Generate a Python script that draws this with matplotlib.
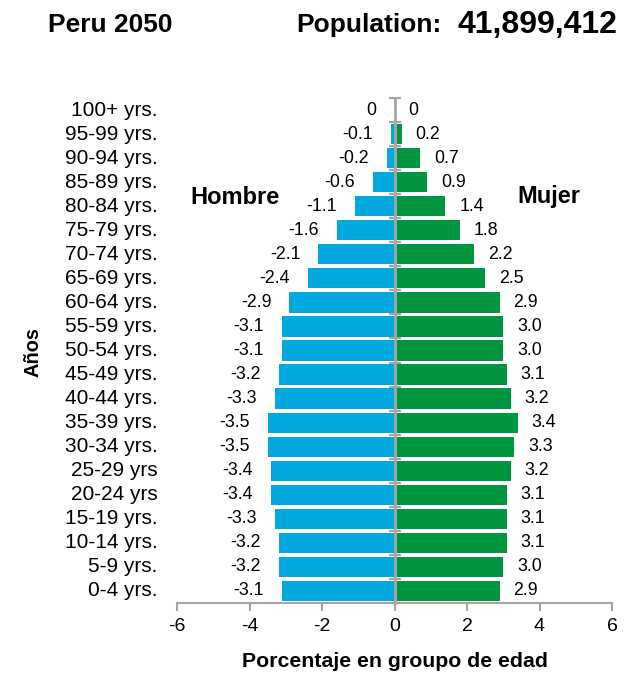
import matplotlib
matplotlib.use("Agg")
import matplotlib.pyplot as plt
from matplotlib.transforms import blended_transform_factory

plt.rcParams["font.family"] = ["Liberation Sans", "DejaVu Sans"]
plt.rcParams["axes.unicode_minus"] = False

# Age groups from youngest to oldest
age_groups = ["0-4 yrs.", "5-9 yrs.", "10-14 yrs.", "15-19 yrs.", "20-24 yrs",
              "25-29 yrs", "30-34 yrs.", "35-39 yrs.", "40-44 yrs.", "45-49 yrs.",
              "50-54 yrs.", "55-59 yrs.", "60-64 yrs.", "65-69 yrs.", "70-74 yrs.",
              "75-79 yrs.", "80-84 yrs.", "85-89 yrs.", "90-94 yrs.", "95-99 yrs.",
              "100+ yrs."]
# Percent of population (men drawn on the negative side)
male = [-3.1, -3.2, -3.2, -3.3, -3.4, -3.4, -3.5, -3.5, -3.3, -3.2,
        -3.1, -3.1, -2.9, -2.4, -2.1, -1.6, -1.1, -0.6, -0.2, -0.1, 0.0]
female = [2.9, 3.0, 3.1, 3.1, 3.1, 3.2, 3.3, 3.4, 3.2, 3.1,
          3.0, 3.0, 2.9, 2.5, 2.2, 1.8, 1.4, 0.9, 0.7, 0.2, 0.0]
x_ticks = [-6, -4, -2, 0, 2, 4, 6]

BLUE = "#00a9e0"
GREEN = "#00963f"
GRAY = "#a6a6a6"

fig = plt.figure(figsize=(6.29, 6.75), dpi=100)
ax = fig.add_axes([177 / 629, 1 - 603 / 675, 435 / 629, 505 / 675])

y = list(range(len(age_groups)))
ax.barh(y, male, height=0.84, color=BLUE, zorder=2)
ax.barh(y, female, height=0.84, color=GREEN, zorder=2)

ax.set_xlim(-6, 6)
ax.set_ylim(-0.5, len(age_groups) - 0.5)


def fmt(v):
    return "0" if v == 0 else f"{v:.1f}"


# Value labels at the outer end of each bar
for yi, v in zip(y, male):
    ax.annotate(fmt(v), (v, yi), xytext=(-13, 0), textcoords="offset points",
                ha="right", va="center", fontsize=12.8, color="black")
for yi, v in zip(y, female):
    ax.annotate(fmt(v), (v, yi), xytext=(10, 0), textcoords="offset points",
                ha="left", va="center", fontsize=12.8, color="black")

# Central axis with cross ticks between groups
ax.spines["left"].set_position(("data", 0))
ax.spines["left"].set_color(GRAY)
ax.spines["left"].set_linewidth(2)
ax.spines["left"].set_zorder(3)
ax.set_yticks([])
ax.set_yticks([i + 0.5 for i in range(-1, len(age_groups))], minor=True)
ax.tick_params(axis="y", which="minor", direction="inout", length=9,
               width=1.5, color=GRAY, labelleft=False)

# Age group labels on the far left
trans = blended_transform_factory(ax.transAxes, ax.transData)
for yi, lab in zip(y, age_groups):
    ax.text(-0.044, yi, lab, transform=trans, ha="right", va="center",
            fontsize=15, color="black")

ax.spines["top"].set_visible(False)
ax.spines["right"].set_visible(False)
ax.spines["bottom"].set_color(GRAY)
ax.spines["bottom"].set_linewidth(1.5)
ax.set_xticks(x_ticks)
ax.set_xticklabels([str(t) for t in x_ticks])
ax.tick_params(axis="x", direction="out", length=6, width=1.5, color=GRAY,
               labelsize=14, pad=5)

ax.set_xlabel("Porcentaje en groupo de edad", fontsize=15.3, fontweight="bold",
              labelpad=12)
fig.text(33 / 629, 1 - 352 / 675, "Años", rotation=90, ha="center", va="center",
         fontsize=14.4, fontweight="bold")

fig.text(190 / 629, 1 - 198 / 675, "Hombre", fontsize=17, fontweight="bold",
         ha="left", va="center")
fig.text(580 / 629, 1 - 196 / 675, "Mujer", fontsize=17, fontweight="bold",
         ha="right", va="center")

fig.text(48 / 629, 1 - 25 / 675, "Peru 2050", fontsize=19, fontweight="bold",
         ha="left", va="center")
fig.text(617 / 629, 1 - 25 / 675, "41,899,412", fontsize=23, fontweight="bold",
         ha="right", va="center")
fig.text(442 / 629, 1 - 25 / 675, "Population:", fontsize=19, fontweight="bold",
         ha="right", va="center")

fig.savefig("out.png", dpi=100)
